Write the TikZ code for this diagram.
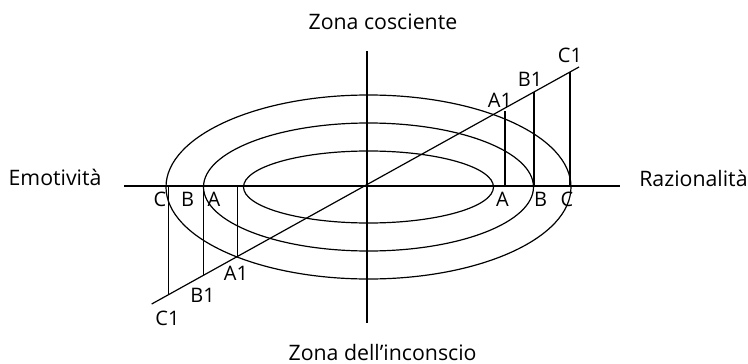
\documentclass[tikz,border=0pt]{standalone}
\usepackage{fontspec}
\setmainfont{Open Sans}
\begin{document}
\begin{tikzpicture}[x=1pt,y=-1pt,line width=1.2pt,
  lbl/.style={font=\fontsize{20}{22}\selectfont,inner sep=0pt},
  ttl/.style={font=\fontsize{21.3}{24}\selectfont,inner sep=0pt}]
\useasboundingbox (0,0) rectangle (748,364);
% centre and ellipses
\coordinate (O) at (368.5,187);
\draw (O) ellipse [x radius=125, y radius=36];
\draw (O) ellipse [x radius=165, y radius=64];
\draw (O) ellipse [x radius=202.5, y radius=92];
% axes
\coordinate (HL) at (124,186);
\coordinate (HR) at (620,186);
\coordinate (VT) at (367,51);
\coordinate (VB) at (367,323);
\draw (HL) -- (HR);
\draw (VT) -- (VB);
% diagonal
\coordinate (D1) at (151.7,304);
\coordinate (D2) at (579,67);
\draw (D1) -- (D2);
% left verticals
\coordinate (lC) at (168.3,186); \coordinate (lC1) at (168.3,294.8);
\coordinate (lB) at (203.3,186); \coordinate (lB1) at (203.3,275.4);
\coordinate (lA) at (237.7,186); \coordinate (lA1) at (237.7,256.3);
\draw (lC) -- (lC1);
\draw (lB) -- (lB1);
\draw (lA) -- (lA1);
% right verticals
\coordinate (rA) at (505,186); \coordinate (rA1) at (505,111);
\coordinate (rB) at (534,186); \coordinate (rB1) at (534,91.9);
\coordinate (rC) at (570,186); \coordinate (rC1) at (570,72);
\draw (rA) -- (rA1);
\draw (rB) -- (rB1);
\draw (rC) -- (rC1);
% letter labels
\node[lbl] (tlC) at (160,199.5) {C};
\node[lbl] (tlB) at (187.5,199.5) {B};
\node[lbl] (tlA) at (214,199.5) {A};
\node[lbl] (trA) at (502.5,199.5) {A};
\node[lbl] (trB) at (540.5,199.5) {B};
\node[lbl] (trC) at (567,199.5) {C};
\node[lbl] (trA1) at (500,100.5) {A1};
\node[lbl] (trB1) at (530,79) {B1};
\node[lbl] (trC1) at (570,55) {C1};
\node[lbl] (tlA1) at (236,273) {A1};
\node[lbl] (tlB1) at (202.5,295.5) {B1};
\node[lbl] (tlC1) at (167.5,318.5) {C1};
% titles
\node[ttl,anchor=base west] (emo) at (8,185) {Emotività};
\node[ttl,anchor=base west] (raz) at (638.7,186.7) {Razionalità};
\node[ttl,anchor=base west] (cos) at (308,30) {Zona cosciente};
\node[ttl,anchor=base west] (inc) at (288,360) {Zona dell’inconscio};
\end{tikzpicture}
\end{document}
